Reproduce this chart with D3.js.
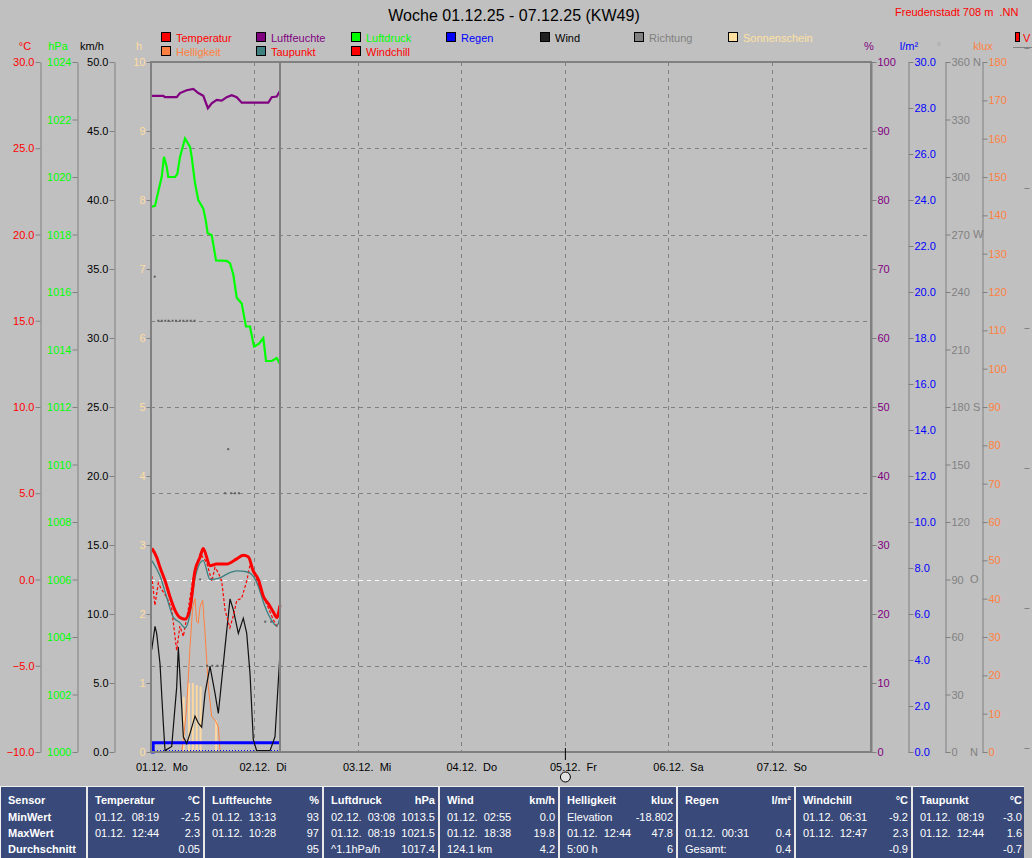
<!DOCTYPE html>
<html><head><meta charset="utf-8">
<script src="https://cdn.jsdelivr.net/npm/d3@7"></script>
<style>
body{margin:0;background:#c0c0c0;overflow:hidden;}
svg text{font-family:"Liberation Sans",Arial,sans-serif;white-space:pre;}
</style></head><body>
<svg id="c" width="1032" height="858"></svg>
<script>
// ---------- DATA ----------
const title = "Woche 01.12.25 - 07.12.25 (KW49)";
const station = "Freudenstadt 708 m  .NN";
const dayLabels = ["01.12.  Mo","02.12.  Di","03.12.  Mi","04.12.  Do","05.12.  Fr","06.12.  Sa","07.12.  So"];
const dayHours = [0,24,48,72,96,120,144];

// [hour since 01.12. 00:00, value]
const tempData = [[0.2,1.8],[1.3,1.3],[2.1,0.7],[3.3,-0.1],[4.4,-1.0],[5.6,-1.8],[6.7,-2.2],[7.9,-2.3],[9.1,-1.6],[10.2,0.5],[11.4,1.3],[12.1,1.8],[13.7,0.8],[15.2,0.9],[17.6,0.9],[19.9,1.2],[21.4,1.4],[22.6,1.3],[23.7,0.5],[24.9,0.0],[26.1,-1.0],[27.2,-1.4],[28.4,-1.9],[29.2,-2.2],[29.9,-1.5]];
const dewData = [[0.2,1.1],[2.1,0.2],[3.6,-1.0],[5.2,-2.2],[6.7,-2.5],[7.9,-2.8],[9.05,-2.0],[10.2,0.1],[12.1,1.1],[13.7,0.0],[16.0,0.1],[18.3,0.4],[19.9,0.5],[22.2,0.45],[23.7,0.2],[24.9,-0.4],[26.05,-1.3],[27.6,-2.2],[29.2,-2.7],[29.9,-2.2]];
const chillData = [[0.2,0.2],[0.9,-1.5],[1.7,-0.2],[2.5,-0.6],[3.6,-1.0],[4.8,-1.7],[5.95,-4.1],[6.7,-2.7],[7.5,-3.3],[8.6,-1.8],[9.8,0.2],[11.4,1.5],[12.9,1.0],[14.1,-0.1],[14.85,0.7],[15.6,0.4],[16.4,-0.1],[17.2,-1.8],[18.3,-2.8],[19.1,-2.1],[19.9,-1.2],[21.0,-1.1],[22.2,-0.1],[23.0,0.9],[24.1,0.3],[25.3,-0.6],[26.8,-1.4],[28.4,-2.35],[29.2,-2.7],[29.9,-2.45]];
const humData = [[0.2,95.1],[2.85,95.1],[3.25,94.9],[5.96,94.9],[6.73,95.5],[8.28,95.9],[9.81,96.1],[10.97,95.5],[12.13,95.1],[13.2,93.3],[14.08,94.0],[15.24,94.5],[16.4,94.4],[17.56,94.9],[18.72,95.2],[19.88,94.9],[21.04,94.1],[27.2,94.1],[28.0,94.9],[29.16,95.0],[29.92,95.8]];
const pressData = [[0.16,1018.97],[0.93,1019.0],[1.7,1019.5],[2.48,1020.0],[3.0,1020.7],[3.63,1020.36],[4.0,1020.0],[5.57,1020.0],[6.1,1020.1],[6.73,1020.7],[7.89,1021.34],[9.05,1021.05],[9.44,1020.7],[10.21,1019.78],[10.97,1019.2],[12.13,1018.9],[12.69,1018.5],[13.15,1018.04],[14.08,1017.98],[15.08,1017.1],[17.56,1017.08],[18.33,1017.0],[19.1,1016.6],[19.88,1015.8],[21.04,1015.6],[22.03,1014.8],[22.96,1014.8],[23.89,1014.1],[25.05,1014.2],[26.05,1014.4],[26.68,1013.6],[28.0,1013.6],[29.16,1013.7],[29.92,1013.5]];
const windData = [[0.16,7.4],[0.93,9.1],[1.32,8.6],[2.09,6.4],[2.85,2.1],[3.25,0.1],[4.8,0.4],[5.96,4.7],[6.34,7.6],[7.12,3.3],[7.5,1.1],[8.28,0.6],[9.05,1.35],[10.21,2.6],[10.97,2.1],[11.76,1.8],[12.53,4.25],[13.69,6.2],[14.85,4.25],[15.62,2.8],[16.4,5.2],[17.17,7.6],[18.33,11.1],[19.1,10.3],[20.26,8.6],[21.41,9.7],[22.2,8.6],[22.96,5.7],[23.73,0.9],[24.5,0.1],[27.6,0.1],[28.76,1.1],[29.92,7.15]];
const luxData = [[7.12,0],[7.5,3],[8.28,11.8],[9.05,27.5],[9.67,37.9],[10.21,40],[10.6,34],[10.97,33.6],[11.37,37.9],[11.99,39.6],[12.53,31],[12.92,24],[13.3,17],[14.08,9.2],[14.85,8.3],[15.62,6.6],[16.0,0.5],[16.2,0]];
const sunData = [[7.6,0.8],[8.8,1.0],[9.7,1.0],[10.6,0.97],[11.5,0.95],[15.1,0.46]];
const rainData = [[0,0],[0.5,0.4],[30.0,0.4]];
const dirData = [[0.86,248],[1.7,225],[2.5,225],[3.3,225],[4.1,225],[5.0,225],[5.8,225],[6.7,225],[7.5,225],[8.4,225],[9.2,225],[10.1,225],[11.4,90],[13.0,45],[14.2,45],[15.4,45],[16.5,45],[17.2,135],[17.9,158],[18.6,135],[19.5,135],[20.4,135],[26.5,68],[27.9,68]];
const nowHour = 30;

const tempTicks = [-10,-5,0,5,10,15,20,25,30];
const pressTicks = [1000,1002,1004,1006,1008,1010,1012,1014,1016,1018,1020,1022,1024];
const windTicks = [0,5,10,15,20,25,30,35,40,45,50];
const sunTicks = [0,1,2,3,4,5,6,7,8,9,10];
const humTicks = [0,10,20,30,40,50,60,70,80,90,100];
const rainTicks = [0,2,4,6,8,10,12,14,16,18,20,22,24,26,28,30];
const dirTicks = [0,30,60,90,120,150,180,210,240,270,300,330,360];
const dirLetters = [[360,"N"],[270,"W"],[180,"S"],[90,"O"],[0,"N"]];
const luxTicks = [0,10,20,30,40,50,60,70,80,90,100,110,120,130,140,150,160,170,180];

const legendRow1 = [["Temperatur","#ff0000","#ff0000"],["Luftfeuchte","#800080","#800080"],["Luftdruck","#00ff00","#00ff00"],["Regen","#0000ff","#0000ff"],["Wind","#202020","#000000"],["Richtung","#808080","#808080"],["Sonnenschein","#ffe0a0","#ffe0a0"]];
const legendRow2 = [["Helligkeit","#ff8040","#ff8040"],["Taupunkt","#408080","#ff0000"],["Windchill","#ff0000","#ff0000"]];

const tableCols = [
 {h:"Sensor",u:"",rows:[["MinWert",""],["MaxWert",""],["Durchschnitt",""]],bold:true},
 {h:"Temperatur",u:"°C",rows:[["01.12.  08:19","-2.5"],["01.12.  12:44","2.3"],["","0.05"]]},
 {h:"Luftfeuchte",u:"%",rows:[["01.12.  13:13","93"],["01.12.  10:28","97"],["","95"]]},
 {h:"Luftdruck",u:"hPa",rows:[["02.12.  03:08","1013.5"],["01.12.  08:19","1021.5"],["^1.1hPa/h","1017.4"]]},
 {h:"Wind",u:"km/h",rows:[["01.12.  02:55","0.0"],["01.12.  18:38","19.8"],["124.1 km","4.2"]]},
 {h:"Helligkeit",u:"klux",rows:[["Elevation","-18.802"],["01.12.  12:44","47.8"],["5:00 h","6"]]},
 {h:"Regen",u:"l/m²",rows:[["",""],["01.12.  00:31","0.4"],["Gesamt:","0.4"]]},
 {h:"Windchill",u:"°C",rows:[["01.12.  06:31","-9.2"],["01.12.  12:47","2.3"],["","-0.9"]]},
 {h:"Taupunkt",u:"°C",rows:[["01.12.  08:19","-3.0"],["01.12.  12:44","1.6"],["","-0.7"]]}
];

// ---------- LAYOUT ----------
const svg = d3.select("#c");
const FONT = "Liberation Sans, Arial, sans-serif";
const X0=151, X1=871, Y0=752, Y1=62;
const x = d3.scaleLinear().domain([0,167]).range([X0,X1]);
const yT = d3.scaleLinear().domain([-10,30]).range([Y0,Y1]);
const yP = d3.scaleLinear().domain([1000,1024]).range([Y0,Y1]);
const yW = d3.scaleLinear().domain([0,50]).range([Y0,Y1]);
const yS = d3.scaleLinear().domain([0,10]).range([Y0,Y1]);
const yH = d3.scaleLinear().domain([0,100]).range([Y0,Y1]);
const yR = d3.scaleLinear().domain([0,30]).range([Y0,Y1]);
const yD = d3.scaleLinear().domain([0,360]).range([Y0,Y1]);
const yL = d3.scaleLinear().domain([0,180]).range([Y0,Y1]);

svg.append("rect").attr("width",1032).attr("height",858).attr("fill","#c0c0c0");

// title
svg.append("text").attr("x",514).attr("y",21).attr("text-anchor","middle").attr("font-size",16).attr("fill","#000").text(title);
svg.append("text").attr("x",895).attr("y",16).attr("font-size",11).attr("fill","#ff0000").text(station);

// legend
const legCols=[161,256,351,446,540,634,728];
function legendRow(items,y){
  items.forEach((d,i)=>{
    svg.append("rect").attr("x",legCols[i]+0.5).attr("y",y-9.5).attr("width",9).attr("height",9).attr("fill",d[1]).attr("stroke","#000").attr("stroke-width",1);
    svg.append("text").attr("x",legCols[i]+15).attr("y",y).attr("font-size",11).attr("fill",d[2]).text(d[0]);
  });
}
legendRow(legendRow1,42);
legendRow(legendRow2,56);

// clipped legend remnant top right
svg.append("rect").attr("x",1015.5).attr("y",32.5).attr("width",4).attr("height",9).attr("fill","#ff0000").attr("stroke","#000");
svg.append("text").attr("x",1023).attr("y",42).attr("font-size",11).attr("fill","#ff0000").text("V");
svg.append("line").attr("x1",1013).attr("x2",1032).attr("y1",47.5).attr("y2",47.5).attr("stroke","#808080");

// grid
const grid = svg.append("g");
tempTicks.filter(t=>t>-10&&t<30).forEach(t=>{
  grid.append("line").attr("x1",X0).attr("x2",X1).attr("y1",Math.round(yT(t))+0.5).attr("y2",Math.round(yT(t))+0.5)
    .attr("stroke",t===0?"#ffffff":"#808080").attr("stroke-dasharray","4,4");
});
dayHours.slice(1).forEach(h=>{
  grid.append("line").attr("x1",Math.round(x(h))+0.5).attr("x2",Math.round(x(h))+0.5).attr("y1",Y1).attr("y2",Y0)
    .attr("stroke","#808080").attr("stroke-dasharray","4,4");
});

// axes
function drawAxis(scale,ticks,fmt,xpos,side,color,size){
  const ax=(side==="left"?d3.axisLeft(scale):d3.axisRight(scale)).tickValues(ticks).tickFormat(fmt).tickSize(size||5).tickSizeOuter(0).tickPadding(1);
  const g=svg.append("g").attr("transform",`translate(${xpos+0.5},0)`).call(ax).attr("font-family",FONT).attr("font-size",11);
  g.select(".domain").attr("stroke","#808080");
  g.selectAll(".tick line").attr("stroke","#808080");
  g.selectAll(".tick text").attr("fill",color);
  return g;
}
drawAxis(yT,tempTicks,d3.format(".1f"),40,"left","#ff0000");
drawAxis(yP,pressTicks,d3.format("d"),77,"left","#00ff00");
drawAxis(yW,windTicks,d3.format(".1f"),114,"left","#000000");
drawAxis(yS,sunTicks,d3.format("d"),150,"left","#ffdca0",4);
drawAxis(yH,humTicks,d3.format("d"),871,"right","#800080");
drawAxis(yR,rainTicks,d3.format(".1f"),908,"right","#0000ff");
drawAxis(yD,dirTicks,d3.format("d"),945,"right","#808080");
drawAxis(yL,luxTicks,d3.format("d"),982,"right","#ff8040");
dirLetters.forEach(d=>{
  svg.append("text").attr("x",d[0]===90||d[0]===0?970:973).attr("y",yD(d[0])).attr("dy","0.32em").attr("font-size",11).attr("fill","#808080").text(d[1]);
});
// clipped extra axis ticks at right edge
const yX = d3.scaleLinear().domain([0,5]).range([748,48]);
const gx = svg.append("g").attr("transform","translate(1024.5,0)").call(d3.axisRight(yX).ticks(5).tickSize(5).tickFormat(""));
gx.select(".domain").remove();
gx.selectAll(".tick line").attr("stroke","#808080");

// axis unit titles
[["°C",25,"#ff0000"],["hPa",58,"#00ff00"],["km/h",92,"#000000"],["h",139,"#ffdca0"],["%",869,"#800080"],["l/m²",909,"#0000ff"],["°",939,"#a0a0a0"],["klux",983,"#ff8040"]].forEach(d=>{
  svg.append("text").attr("x",d[1]).attr("y",50).attr("text-anchor","middle").attr("font-size",11).attr("fill",d[2]).text(d[0]);
});

// ---------- SERIES ----------
const plot = svg.append("g");
// sunshine bars
plot.selectAll(".sun").data(sunData).join("rect")
  .attr("x",d=>x(d[0])-1).attr("y",d=>yS(d[1])).attr("width",2).attr("height",d=>Y0-yS(d[1])).attr("fill","#ffd8a0");
// brightness
plot.append("path").datum(luxData).attr("fill","none").attr("stroke","#ff8040").attr("stroke-width",1)
  .attr("d",d3.line().x(d=>x(d[0])).y(d=>yL(d[1])));
// rain
plot.append("line").attr("x1",X0).attr("x2",x(nowHour)).attr("y1",Y0-1.5).attr("y2",Y0-1.5).attr("stroke","#0000ff").attr("stroke-dasharray","1,2");
plot.append("path").datum(rainData).attr("fill","none").attr("stroke","#0000ff").attr("stroke-width",3)
  .attr("d",d3.line().x(d=>x(d[0])).y(d=>yR(d[1])).curve(d3.curveStepAfter));
// wind
plot.append("path").datum(windData).attr("fill","none").attr("stroke","#101010").attr("stroke-width",1.2)
  .attr("d",d3.line().x(d=>x(d[0])).y(d=>yW(d[1])));
// direction
plot.selectAll(".dir").data(dirData).join("rect")
  .attr("x",d=>x(d[0])-1).attr("y",d=>yD(d[1])-1).attr("width",2).attr("height",2).attr("fill","#606060");
// windchill
plot.append("path").datum(chillData).attr("fill","none").attr("stroke","#ff0000").attr("stroke-width",1.2).attr("stroke-dasharray","3,2")
  .attr("d",d3.line().x(d=>x(d[0])).y(d=>yT(d[1])));
// dew point
plot.append("path").datum(dewData).attr("fill","none").attr("stroke","#3a8080").attr("stroke-width",1.3)
  .attr("d",d3.line().x(d=>x(d[0])).y(d=>yT(d[1])).curve(d3.curveMonotoneX));
// temperature
plot.append("path").datum(tempData).attr("fill","none").attr("stroke","#ff0000").attr("stroke-width",3)
  .attr("d",d3.line().x(d=>x(d[0])).y(d=>yT(d[1])).curve(d3.curveMonotoneX));
// humidity
plot.append("path").datum(humData).attr("fill","none").attr("stroke","#800080").attr("stroke-width",2.2)
  .attr("d",d3.line().x(d=>x(d[0])).y(d=>yH(d[1])));
// pressure
plot.append("path").datum(pressData).attr("fill","none").attr("stroke","#00ff00").attr("stroke-width",2.2)
  .attr("d",d3.line().x(d=>x(d[0])).y(d=>yP(d[1])));

// now line
svg.append("line").attr("x1",Math.round(x(nowHour))).attr("x2",Math.round(x(nowHour))).attr("y1",Y1).attr("y2",Y0).attr("stroke","#808080").attr("stroke-width",2);
// frame
svg.append("rect").attr("x",X0).attr("y",Y1).attr("width",X1-X0).attr("height",Y0-Y1).attr("fill","none").attr("stroke","#808080").attr("stroke-width",2);

// x labels
dayHours.forEach((h,i)=>{
  svg.append("text").attr("x",x(h)-15).attr("y",771).attr("font-size",11).attr("fill","#000").text(dayLabels[i]);
});
// marker at 05.12.
svg.append("line").attr("x1",x(96)+0.5).attr("x2",x(96)+0.5).attr("y1",748).attr("y2",760).attr("stroke","#000");
svg.append("circle").attr("cx",x(96)+0.5).attr("cy",777).attr("r",5).attr("fill","#e0e0e0").attr("stroke","#000");

// ---------- TABLE ----------
const tY=787, tX1=1024;
svg.append("rect").attr("x",0).attr("y",tY).attr("width",tX1).attr("height",858-tY).attr("fill","#394a7a");
svg.append("line").attr("x1",0).attr("x2",tX1).attr("y1",tY-0.5).attr("y2",tY-0.5).attr("stroke","#f0f0f0");
svg.append("line").attr("x1",0.5).attr("x2",0.5).attr("y1",tY).attr("y2",858).attr("stroke","#f0f0f0");
const colEdges=[0,87,204,323,439,559,677,795,912,1024];
colEdges.slice(1,-1).forEach(e=>{
  svg.append("rect").attr("x",e-1).attr("y",tY).attr("width",2).attr("height",858-tY).attr("fill","#e8e8e8");
});
const rowY=[804,821,837,853];
tableCols.forEach((c,i)=>{
  const left=colEdges[i]+8, right=colEdges[i+1]-(i===tableCols.length-1?2:4);
  svg.append("text").attr("x",left).attr("y",rowY[0]).attr("font-size",11).attr("font-weight","bold").attr("fill","#fff").text(c.h);
  svg.append("text").attr("x",right).attr("y",rowY[0]).attr("text-anchor","end").attr("font-size",11).attr("font-weight","bold").attr("fill","#fff").text(c.u);
  c.rows.forEach((r,j)=>{
    svg.append("text").attr("x",left).attr("y",rowY[j+1]).attr("font-size",11).attr("font-weight",c.bold?"bold":"normal").attr("fill","#fff").text(r[0]);
    svg.append("text").attr("x",right).attr("y",rowY[j+1]).attr("text-anchor","end").attr("font-size",11).attr("fill","#fff").text(r[1]);
  });
});
</script>
</body></html>
